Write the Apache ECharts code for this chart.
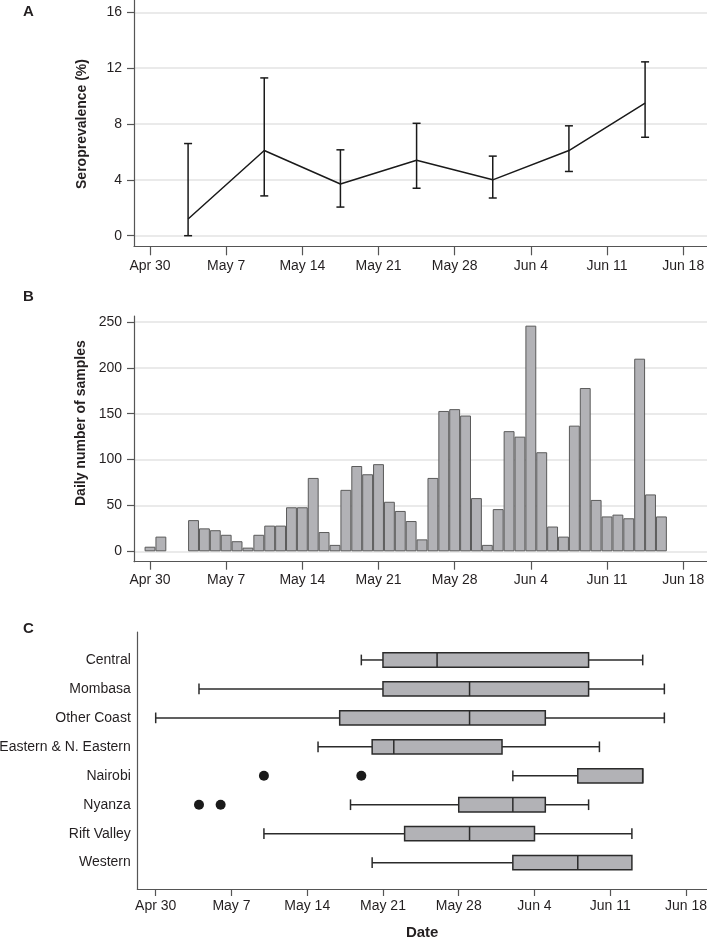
<!DOCTYPE html>
<html><head><meta charset="utf-8">
<script src="https://cdn.jsdelivr.net/npm/echarts@6/dist/echarts.min.js"></script>
<style>html,body{margin:0;padding:0;background:#fff}#c{width:707px;height:943px}</style>
</head><body><div id="c"></div>
<script>
// ---------- shared date axis ----------
const dateTickLabels = ['Apr 30','May 7','May 14','May 21','May 28','Jun 4','Jun 11','Jun 18'];
const dateTickDates  = ['2020-04-30','2020-05-07','2020-05-14','2020-05-21','2020-05-28','2020-06-04','2020-06-11','2020-06-18'];

// ---------- Panel A: weekly seroprevalence ----------
const weekMidDates   = ['2020-05-03T12:00Z','2020-05-10T12:00Z','2020-05-17T12:00Z','2020-05-24T12:00Z','2020-05-31T12:00Z','2020-06-07T12:00Z','2020-06-14T12:00Z'];
const seroprevalence = [1.2, 6.1, 3.7, 5.4, 4.0, 6.1, 9.5];
const ciLower        = [0.0, 2.85, 2.05, 3.4, 2.7, 4.6, 7.05];
const ciUpper        = [6.6, 11.3, 6.15, 8.05, 5.7, 7.87, 12.45];
const seroTicks      = [0, 4, 8, 12, 16];

// ---------- Panel B: daily samples ----------
const sampleDates = ['2020-04-30','2020-05-01',
  '2020-05-04','2020-05-05','2020-05-06','2020-05-07','2020-05-08','2020-05-09','2020-05-10',
  '2020-05-11','2020-05-12','2020-05-13','2020-05-14','2020-05-15','2020-05-16','2020-05-17',
  '2020-05-18','2020-05-19','2020-05-20','2020-05-21','2020-05-22','2020-05-23','2020-05-24',
  '2020-05-25','2020-05-26','2020-05-27','2020-05-28','2020-05-29','2020-05-30','2020-05-31',
  '2020-06-01','2020-06-02','2020-06-03','2020-06-04','2020-06-05','2020-06-06','2020-06-07',
  '2020-06-08','2020-06-09','2020-06-10','2020-06-11','2020-06-12','2020-06-13','2020-06-14',
  '2020-06-15','2020-06-16'];
const dailySamples = [5, 16,
  34, 25, 23, 18, 11, 4, 18,
  28, 28, 48, 48, 80, 21, 7,
  67, 93, 84, 95, 54, 44, 33,
  13, 80, 153, 155, 148, 58, 7,
  46, 131, 125, 246, 108, 27, 16,
  137, 178, 56, 38, 40, 36, 210,
  62, 38];
const sampleTicks = [0, 50, 100, 150, 200, 250];

// ---------- Panel C: sampling dates by region ----------
const regions   = ['Central','Mombasa','Other Coast','Eastern & N. Eastern','Nairobi','Nyanza','Rift Valley','Western'];
const boxMin    = ['2020-05-19','2020-05-04','2020-04-30','2020-05-15','2020-06-02','2020-05-18','2020-05-10','2020-05-20'];
const boxQ1     = ['2020-05-21','2020-05-21','2020-05-17','2020-05-20','2020-06-08','2020-05-28','2020-05-23','2020-06-02'];
const boxMedian = ['2020-05-26','2020-05-29','2020-05-29','2020-05-22','2020-06-14','2020-06-02','2020-05-29','2020-06-08'];
const boxQ3     = ['2020-06-09','2020-06-09','2020-06-05','2020-06-01','2020-06-14','2020-06-05','2020-06-04','2020-06-13'];
const boxMax    = ['2020-06-14','2020-06-16','2020-06-16','2020-06-10','2020-06-14','2020-06-09','2020-06-13','2020-06-13'];
const outlierRegions = ['Nairobi','Nairobi','Nyanza','Nyanza'];
const outlierDates   = ['2020-05-10','2020-05-19','2020-05-04','2020-05-06'];

// ---------- helpers ----------
const BASE = Date.parse('2020-04-30T00:00:00Z');
function day(s){ return (Date.parse(s.length > 10 ? s : s + 'T00:00:00Z') - BASE) / 864e5; }
const tickDays = dateTickDates.map(day);
function dateLabel(v){ const i = tickDays.findIndex(t => Math.abs(t - v) < 1e-6); return i >= 0 ? dateTickLabels[i] : ''; }

const FONT = "'Liberation Sans', Arial, sans-serif";
const TXT = '#231f20';
const AXIS = '#555';
const GRIDC = '#e3e3e3';
const FILL = '#b2b2b6';

// axis ranges in days from Apr 30 (chosen to match plot extents)
const AB_MIN = -1.471, AB_MAX = 51.19;
const C_MIN = -1.70, C_MAX = 50.94;

function hiddenX(grid, min, max){ return {type:'value', gridIndex:grid, min, max, show:false}; }
function frameX(grid, min, max, tickLen, margin, extra){
  return Object.assign({type:'value', gridIndex:grid, min, max,
    axisLine:{show:true, onZero:false, lineStyle:{color:AXIS, width:1.2}},
    axisTick:{show:true, length:tickLen, customValues:tickDays, lineStyle:{color:AXIS, width:1.2}},
    axisLabel:{show:true, customValues:tickDays, formatter:dateLabel, margin, fontFamily:FONT, fontSize:14, color:TXT},
    splitLine:{show:false}}, extra || {});
}
function frameY(grid){
  return {type:'value', gridIndex:grid, min:0, max:1,
    axisLine:{show:true, onZero:false, lineStyle:{color:AXIS, width:1.2}},
    axisTick:{show:false}, axisLabel:{show:false}, splitLine:{show:false}};
}
function valueY(grid, max, interval, name, pad){
  return {type:'value', gridIndex:grid, min:0, max, interval,
    axisLine:{show:false, onZero:false},
    axisTick:{show:true, length:7, lineStyle:{color:AXIS, width:1.2}},
    axisLabel:{margin:12, fontFamily:FONT, fontSize:14, color:TXT},
    splitLine:{show:true, lineStyle:{color:GRIDC, width:1.5}},
    name, nameLocation:'middle', nameGap:45,
    nameTextStyle:{fontFamily:FONT, fontSize:14, fontWeight:'bold', color:TXT, padding:pad || 0}};
}

const seroData = weekMidDates.map((d,i) => [day(d), seroprevalence[i]]);
const ciData = weekMidDates.map((d,i) => [day(d), ciLower[i], ciUpper[i]]);
const barData = sampleDates.map((d,i) => [day(d), dailySamples[i]]);
const boxData = regions.map((r,i) => [day(boxMin[i]), day(boxQ1[i]), day(boxMedian[i]), day(boxQ3[i]), day(boxMax[i]), i]);
const outData = outlierDates.map((d,i) => [day(d), outlierRegions[i]]);

const chart = echarts.init(document.getElementById('c'), null, {renderer:'canvas'});
chart.setOption({
  animation:false,
  backgroundColor:'#fff',
  title:[
    {text:'A', left:23, top:4, padding:0, textStyle:{fontFamily:FONT, fontSize:15, fontWeight:'bold', color:TXT}},
    {text:'B', left:23, top:289, padding:0, textStyle:{fontFamily:FONT, fontSize:15, fontWeight:'bold', color:TXT}},
    {text:'C', left:23, top:621, padding:0, textStyle:{fontFamily:FONT, fontSize:15, fontWeight:'bold', color:TXT}}
  ],
  grid:[
    {left:134, width:573, top:12.3, height:223.4, outerBoundsMode:'none'},
    {left:134, width:573, top:0, height:246.3, outerBoundsMode:'none'},
    {left:134, width:573, top:322, height:229.3, outerBoundsMode:'none'},
    {left:134, width:573, top:316, height:245.7, outerBoundsMode:'none'},
    {left:137.3, width:569.7, top:645.5, height:231.6, outerBoundsMode:'none'},
    {left:137.3, width:569.7, top:632, height:257, outerBoundsMode:'none'}
  ],
  xAxis:[
    hiddenX(0, AB_MIN, AB_MAX),
    frameX(1, AB_MIN, AB_MAX, 9, 13),
    hiddenX(2, AB_MIN, AB_MAX),
    frameX(3, AB_MIN, AB_MAX, 8, 11),
    hiddenX(4, C_MIN, C_MAX),
    frameX(5, C_MIN, C_MAX, 7, 10, {name:'Date', nameLocation:'middle', nameGap:36,
      nameTextStyle:{fontFamily:FONT, fontSize:15, fontWeight:'bold', color:TXT}})
  ],
  yAxis:[
    valueY(0, 16, 4, 'Seroprevalence (%)'),
    frameY(1),
    valueY(2, 250, 50, 'Daily number of samples', [0,0,0,27]),
    frameY(3),
    {type:'category', gridIndex:4, data:regions, inverse:true,
      axisLine:{show:false, onZero:false}, axisTick:{show:false},
      axisLabel:{margin:6.5, fontFamily:FONT, fontSize:14, color:TXT},
      splitLine:{show:false}},
    frameY(5)
  ],
  series:[
    {type:'line', xAxisIndex:0, yAxisIndex:0, data:seroData, symbol:'none',
      lineStyle:{color:'#1a1a1a', width:1.5}, z:3},
    {type:'custom', xAxisIndex:0, yAxisIndex:0, data:ciData, z:3,
      encode:{x:0, y:[1,2]},
      renderItem:function(params, api){
        const lo = api.coord([api.value(0), api.value(1)]);
        const hi = api.coord([api.value(0), api.value(2)]);
        const w = 4;
        const st = {stroke:'#1a1a1a', lineWidth:1.5};
        return {type:'group', children:[
          {type:'line', shape:{x1:lo[0], y1:lo[1], x2:hi[0], y2:hi[1]}, style:st},
          {type:'line', shape:{x1:lo[0]-w, y1:lo[1], x2:lo[0]+w, y2:lo[1]}, style:st},
          {type:'line', shape:{x1:hi[0]-w, y1:hi[1], x2:hi[0]+w, y2:hi[1]}, style:st}
        ]};
      }},
    {type:'bar', xAxisIndex:2, yAxisIndex:2, data:barData, barWidth:'100%',
      itemStyle:{color:FILL, borderColor:'#5a5a5a', borderWidth:1}},
    {type:'custom', xAxisIndex:4, yAxisIndex:4, data:boxData,
      encode:{x:[0,1,2,3,4], y:5},
      renderItem:function(params, api){
        const ci = api.value(5);
        const p = [0,1,2,3,4].map(k => api.coord([api.value(k), ci]));
        const y = p[0][1];
        const bh = 14.3, ch = 10.7;
        const st = {stroke:'#2b2b2b', lineWidth:1.5};
        const kids = [];
        if (p[1][0] > p[0][0]) {
          kids.push({type:'line', shape:{x1:p[0][0], y1:y, x2:p[1][0], y2:y}, style:st});
          kids.push({type:'line', shape:{x1:p[0][0], y1:y-ch/2, x2:p[0][0], y2:y+ch/2}, style:st});
        }
        if (p[4][0] > p[3][0]) {
          kids.push({type:'line', shape:{x1:p[3][0], y1:y, x2:p[4][0], y2:y}, style:st});
          kids.push({type:'line', shape:{x1:p[4][0], y1:y-ch/2, x2:p[4][0], y2:y+ch/2}, style:st});
        }
        kids.push({type:'rect', shape:{x:p[1][0], y:y-bh/2, width:p[3][0]-p[1][0], height:bh},
          style:{fill:FILL, stroke:'#2b2b2b', lineWidth:1.5}});
        kids.push({type:'line', shape:{x1:p[2][0], y1:y-bh/2, x2:p[2][0], y2:y+bh/2}, style:{stroke:'#2b2b2b', lineWidth:1.5}});
        return {type:'group', children:kids};
      }},
    {type:'scatter', xAxisIndex:4, yAxisIndex:4, data:outData, symbol:'circle', symbolSize:10,
      itemStyle:{color:'#1a1a1a', opacity:1}}
  ]
});
</script></body></html>
